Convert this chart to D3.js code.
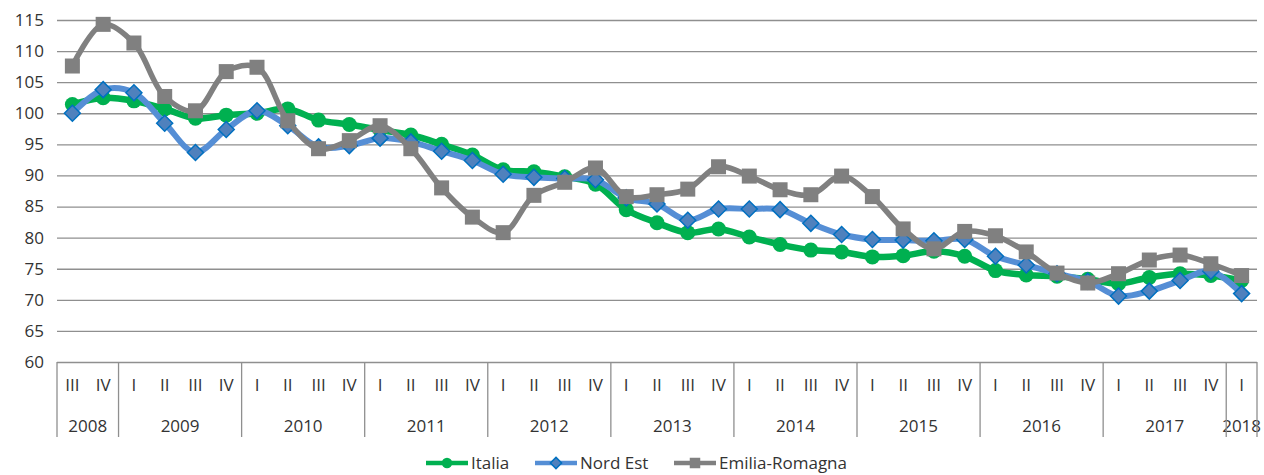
<!DOCTYPE html>
<meta charset="utf-8">
<head>
<style>
  body { margin: 0; background: #fff; }
  text { font-family: "Open Sans", "Noto Sans", sans-serif; fill: #333; }
  .grid line { stroke: #8f8f8f; stroke-width: 1.3; }
  .grid .domain { display: none; }
</style>
</head>
<body>
<div id="chart"></div>
<script src="https://cdn.jsdelivr.net/npm/d3@7"></script>
<script>

// quarters and years on the x axis
var quarters = ["III","IV",
  "I","II","III","IV", "I","II","III","IV", "I","II","III","IV",
  "I","II","III","IV", "I","II","III","IV", "I","II","III","IV",
  "I","II","III","IV", "I","II","III","IV", "I","II","III","IV",
  "I"];
var years = [2008,2008,
  2009,2009,2009,2009, 2010,2010,2010,2010, 2011,2011,2011,2011,
  2012,2012,2012,2012, 2013,2013,2013,2013, 2014,2014,2014,2014,
  2015,2015,2015,2015, 2016,2016,2016,2016, 2017,2017,2017,2017,
  2018];

var yTicks = [60,65,70,75,80,85,90,95,100,105,110,115];

var italia = [101.4,102.5,102.0,100.7,99.2,99.7,100.0,100.7,98.9,98.2,97.3,96.5,95.0,93.3,
  90.9,90.6,89.8,88.6,84.5,82.4,80.8,81.4,80.1,78.9,78.0,77.7,76.9,77.1,77.8,77.0,
  74.7,74.0,73.8,73.3,72.6,73.6,74.2,73.9,73.1];
var nordEst = [100.0,103.8,103.3,98.4,93.7,97.4,100.4,98.0,94.6,94.8,96.0,95.4,93.9,92.4,
  90.2,89.7,89.5,89.3,86.4,85.4,82.8,84.6,84.6,84.5,82.3,80.5,79.7,79.6,79.5,79.7,
  77.0,75.6,74.2,73.0,70.6,71.4,73.1,74.6,71.0];
var emilia = [107.6,114.3,111.3,102.7,100.4,106.7,107.4,98.8,94.3,95.6,98.0,94.3,88.0,83.3,
  80.8,86.8,88.9,91.2,86.6,86.9,87.8,91.4,89.9,87.7,86.9,89.9,86.6,81.4,78.2,81.0,
  80.3,77.7,74.3,72.7,74.2,76.4,77.2,75.8,73.9];

var W = 1264, H = 475;
var plotL = 57, plotR = 1257, plotT = 20, plotB = 362;

var svg = d3.select("#chart").append("svg")
    .attr("width", W).attr("height", H);

var idx = d3.range(quarters.length);
var x = d3.scaleBand().domain(idx).range([plotL, plotR]);
var y = d3.scaleLinear().domain([60, 115]).range([plotB, plotT]);
var cx = function(i) { return x(i) + x.bandwidth() / 2; };

// horizontal grid + y labels
svg.append("g")
    .attr("class", "grid")
    .attr("transform", "translate(" + plotL + ",0)")
    .call(d3.axisLeft(y).tickValues(yTicks).tickSize(-(plotR - plotL)).tickPadding(13))
    .selectAll("text").style("font-size", "17px").attr("fill", "#333");

// x axis: quarter labels, year labels, separators
var xg = svg.append("g");
xg.selectAll(".q").data(idx).enter().append("text")
    .attr("x", function(i) { return cx(i); })
    .attr("y", 385).attr("dy", "0.35em")
    .attr("text-anchor", "middle")
    .style("font-size", "17px")
    .text(function(i) { return quarters[i]; });

var yearGroups = d3.groups(idx, function(i) { return years[i]; });
xg.selectAll(".yr").data(yearGroups).enter().append("text")
    .attr("x", function(g) { return (x(g[1][0]) + x(g[1][g[1].length - 1]) + x.bandwidth()) / 2; })
    .attr("y", 426).attr("dy", "0.35em")
    .attr("text-anchor", "middle")
    .style("font-size", "17px")
    .text(function(g) { return g[0]; });

var seps = yearGroups.map(function(g) { return x(g[1][0]); }).concat([plotR]);
xg.selectAll(".sep").data(seps).enter().append("line")
    .attr("x1", function(d) { return d; }).attr("x2", function(d) { return d; })
    .attr("y1", plotB).attr("y2", 437)
    .attr("stroke", "#8f8f8f").attr("stroke-width", 1.3);

// series
var series = [
  {name: "Italia", values: italia, line: "#00B050", width: 6.5},
  {name: "Nord Est", values: nordEst, line: "#558ED5", width: 6},
  {name: "Emilia-Romagna", values: emilia, line: "#808080", width: 5.5}
];

function marker(sel, name, k) {
  if (name === "Italia") {
    sel.append("circle").attr("r", 7.5 * k).attr("fill", "#00B050");
  } else if (name === "Nord Est") {
    var r = 8 * k;
    sel.append("path").attr("d", "M0," + (-r) + "L" + r + ",0L0," + r + "L" + (-r) + ",0Z")
      .attr("fill", "#4F81BD").attr("stroke", "#0070C0").attr("stroke-width", 1.5);
  } else {
    var h = 7.5 * k;
    sel.append("rect").attr("x", -h).attr("y", -h).attr("width", 2 * h).attr("height", 2 * h)
      .attr("fill", "#808080");
  }
}

var line = d3.line()
    .x(function(d, i) { return cx(i); })
    .y(function(d) { return y(d); })
    .curve(d3.curveCatmullRom.alpha(0.5));

series.forEach(function(s) {
  var g = svg.append("g");
  g.append("path")
    .attr("d", line(s.values))
    .attr("fill", "none")
    .attr("stroke", s.line)
    .attr("stroke-width", s.width)
    .attr("stroke-linejoin", "round");
  g.selectAll("g").data(s.values).enter().append("g")
    .attr("transform", function(d, i) { return "translate(" + cx(i) + "," + y(d) + ")"; })
    .each(function() { marker(d3.select(this), s.name, 1); });
});

// legend
var legX = [426, 535, 674];
var leg = svg.append("g");
series.forEach(function(s, k) {
  var g = leg.append("g").attr("transform", "translate(" + legX[k] + ",463)");
  g.append("line").attr("x1", 0).attr("x2", 42)
    .attr("stroke", s.line).attr("stroke-width", 4.5);
  var m = g.append("g").attr("transform", "translate(21,0)");
  marker(m, s.name, 0.7);
  g.append("text").attr("x", 45).attr("dy", "0.35em")
    .style("font-size", "17px").text(s.name);
});

</script>
</body>
